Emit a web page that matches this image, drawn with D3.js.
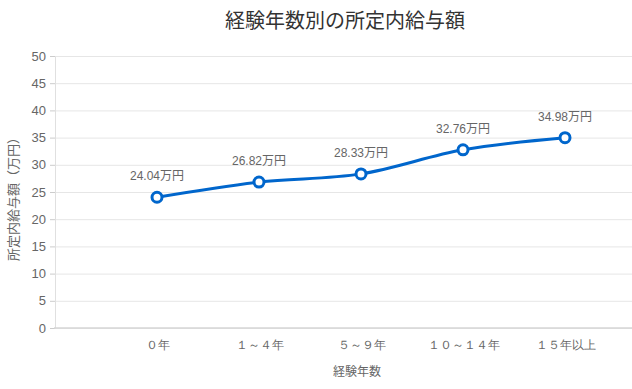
<!DOCTYPE html>
<html>
<head>
<meta charset="utf-8">
<script src="https://cdn.jsdelivr.net/npm/d3@7"></script>
<style>
  body { margin: 0; background: #fff; }
  svg { font-family: "Liberation Sans", "Noto Sans CJK JP", sans-serif; }
  .grid line { stroke: #e6e6e6; }
  .grid path { display: none; }
  .axis text { fill: #666; font-size: 12px; }
</style>
</head>
<body>
<svg id="chart" width="632" height="389"></svg>
<script>
var categories = ["０年", "１～４年", "５～９年", "１０～１４年", "１５年以上"];
var salaries = [24.04, 26.82, 28.33, 32.76, 34.98];
var yTicks = [0, 5, 10, 15, 20, 25, 30, 35, 40, 45, 50];

var margin = {top: 56, right: 0, bottom: 61, left: 55};
var width = 632 - margin.left - margin.right;
var height = 389 - margin.top - margin.bottom;

var svg = d3.select("#chart")
    .append("g")
    .attr("transform", "translate(" + margin.left + "," + margin.top + ")");

// 横軸
var x = d3.scalePoint()
    .domain(categories)
    .range([102, 510]);

// 縦軸
var y = d3.scaleLinear()
    .domain([0, 50])
    .range([height, 0]);

// グリッド
svg.append("g")
    .attr("class", "grid")
    .call(d3.axisLeft(y).tickValues(yTicks).tickSize(-width).tickFormat(""));

// Ｙ軸
var yAxis = svg.append("g")
    .attr("class", "axis")
    .call(d3.axisLeft(y).tickValues(yTicks).tickSizeInner(5).tickSizeOuter(0).tickPadding(4));
yAxis.select(".domain").attr("stroke", "#e0e0e0");
yAxis.selectAll(".tick line").attr("stroke", "#ccc");
yAxis.selectAll("text").style("font-size", "13px").attr("fill", "#777");

// Ｘ軸
var xAxis = svg.append("g")
    .attr("class", "axis")
    .attr("transform", "translate(0," + height + ")")
    .call(d3.axisBottom(x).tickSize(0).tickPadding(12));
xAxis.select(".domain").attr("stroke", "#d6d6d6").attr("stroke-width", 1.5)
    .attr("d", "M-1,0H" + width);
xAxis.selectAll("text").attr("fill", "#555");

// 折れ線
var line = d3.line()
    .x(function(d, i){ return x(categories[i]); })
    .y(function(d){ return y(d); })
    .curve(d3.curveMonotoneX);

svg.append("path")
    .datum(salaries)
    .attr("fill", "none")
    .attr("stroke", "#0066cc")
    .attr("stroke-width", 3)
    .attr("d", line);

svg.selectAll("circle.pt")
    .data(salaries)
    .enter()
    .append("circle")
    .attr("class", "pt")
    .attr("r", 5)
    .attr("fill", "#fff")
    .attr("stroke", "#0066cc")
    .attr("stroke-width", 3)
    .attr("cx", function(d, i){ return x(categories[i]); })
    .attr("cy", function(d){ return y(d); });

// 値ラベル
svg.selectAll("text.val")
    .data(salaries)
    .enter()
    .append("text")
    .attr("class", "val")
    .attr("text-anchor", "middle")
    .attr("fill", "#666")
    .style("font-size", "12px")
    .attr("x", function(d, i){ return x(categories[i]); })
    .attr("y", function(d){ return y(d) - 17; })
    .text(function(d){ return d.toFixed(2) + "万円"; });

// タイトル
d3.select("#chart").append("text")
    .attr("x", 345)
    .attr("y", 28)
    .attr("text-anchor", "middle")
    .attr("fill", "#333")
    .style("font-family", "'Noto Sans CJK JP', sans-serif")
    .style("font-size", "20px")
    .text("経験年数別の所定内給与額");

// 軸タイトル
d3.select("#chart").append("text")
    .attr("x", 357)
    .attr("y", 376)
    .attr("text-anchor", "middle")
    .attr("fill", "#666")
    .style("font-size", "12px")
    .text("経験年数");

d3.select("#chart").append("text")
    .attr("transform", "translate(18," + (margin.top + height / 2 + 4) + ") rotate(-90)")
    .attr("text-anchor", "middle")
    .attr("fill", "#666")
    .style("font-size", "13px")
    .text("所定内給与額（万円）");
</script>
</body>
</html>
